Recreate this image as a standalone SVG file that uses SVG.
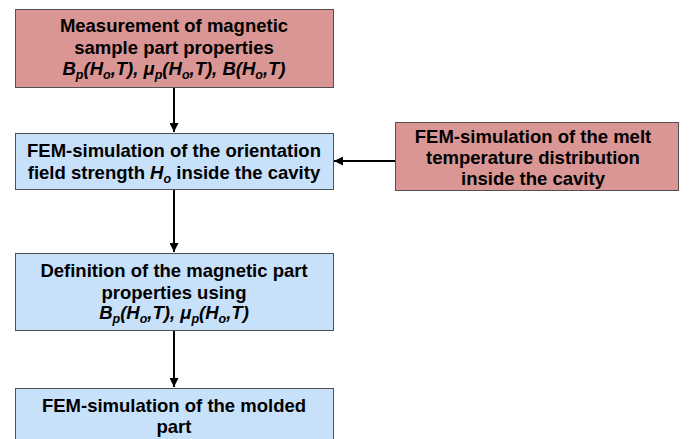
<svg xmlns="http://www.w3.org/2000/svg" width="695" height="439" viewBox="0 0 695 439">
<defs>
<style>
.red{fill:#D99694;stroke:#505050;stroke-width:1}
.blue{fill:#C8E1FA;stroke:#505050;stroke-width:1}
text{font-family:"Liberation Sans",Arial,sans-serif;font-weight:bold;font-size:18.5px;fill:#000;text-anchor:middle}
.it{font-style:italic}
.sub{font-size:12.5px}
.conn{stroke:#000;stroke-width:2;fill:none}
</style>
<marker id="ah" viewBox="0 0 10 10" refX="10" refY="5" markerWidth="4.5" markerHeight="4.5" orient="auto" markerUnits="strokeWidth">
<path d="M0,0 L10,5 L0,10 z" fill="#000"/>
</marker>
</defs>
<rect width="695" height="439" fill="#fff"/>
<g id="connectors">
<line class="conn" x1="174" y1="87" x2="174" y2="132" marker-end="url(#ah)"/>
<line class="conn" x1="174" y1="189" x2="174" y2="252" marker-end="url(#ah)"/>
<line class="conn" x1="174" y1="330" x2="174" y2="387" marker-end="url(#ah)"/>
<line class="conn" x1="395" y1="161" x2="334" y2="161" marker-end="url(#ah)"/>
</g>
<g id="node1">
<rect class="red" x="15.5" y="9.5" width="318" height="78"/>
<text x="174" y="32">Measurement of magnetic</text>
<text x="174" y="54">sample part properties</text>
<text x="174" y="75" class="it">B<tspan class="sub" dy="4">p</tspan><tspan dy="-4">(H</tspan><tspan class="sub" dy="4">o</tspan><tspan dy="-4">,T), μ</tspan><tspan class="sub" dy="4">p</tspan><tspan dy="-4">(H</tspan><tspan class="sub" dy="4">o</tspan><tspan dy="-4">,T), B(H</tspan><tspan class="sub" dy="4">o</tspan><tspan dy="-4">,T)</tspan></text>
</g>
<g id="node2">
<rect class="blue" x="15.5" y="133.5" width="318" height="56"/>
<text x="174" y="157">FEM-simulation of the orientation</text>
<text x="174" y="179">field strength <tspan class="it">H</tspan><tspan class="it sub" dy="4">o</tspan><tspan dy="-4"> inside the cavity</tspan></text>
</g>
<g id="node3">
<rect class="red" x="395.5" y="122.5" width="283" height="68"/>
<text x="533" y="143">FEM-simulation of the melt</text>
<text x="533" y="164">temperature distribution</text>
<text x="533" y="185">inside the cavity</text>
</g>
<g id="node4">
<rect class="blue" x="15.5" y="253.5" width="318" height="77"/>
<text x="174" y="277">Definition of the magnetic part</text>
<text x="174" y="299">properties using</text>
<text x="174" y="319" class="it">B<tspan class="sub" dy="4">p</tspan><tspan dy="-4">(H</tspan><tspan class="sub" dy="4">o</tspan><tspan dy="-4">,T), μ</tspan><tspan class="sub" dy="4">p</tspan><tspan dy="-4">(H</tspan><tspan class="sub" dy="4">o</tspan><tspan dy="-4">,T)</tspan></text>
</g>
<g id="node5">
<rect class="blue" x="15.5" y="388.5" width="318" height="60"/>
<text x="174" y="412">FEM-simulation of the molded</text>
<text x="174" y="433">part</text>
</g>
</svg>
